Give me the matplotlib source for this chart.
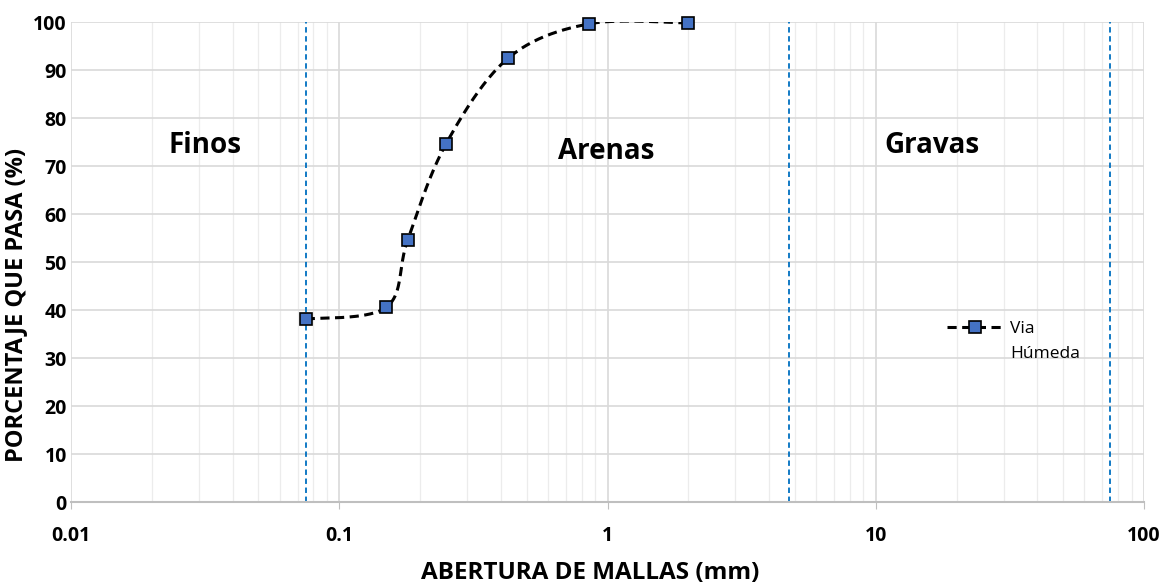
import numpy as np
import matplotlib
matplotlib.use("Agg")
from matplotlib import pyplot as plt
from matplotlib.lines import Line2D
from matplotlib.ticker import LogLocator, NullFormatter

# datos de granulometria
abertura = [0.075, 0.15, 0.18, 0.25, 0.425, 0.85, 2.0]
pasa = [38.1, 40.6, 54.6, 74.6, 92.4, 99.6, 99.8]
limites = [0.075, 4.75, 75.0]
zonas = ["Finos", "Arenas", "Gravas"]
zonas_x = [0.0316, 0.99, 16.2]
zonas_y = [74.2, 73.0, 74.2]
x_ticks = [0.01, 0.1, 1, 10, 100]
x_tick_labels = ["0.01", "0.1", "1", "10", "100"]
y_ticks = list(range(0, 101, 10))

plt.rcParams["font.family"] = ["Open Sans", "DejaVu Sans"]

fig = plt.figure(figsize=(11.67, 5.86), dpi=100)
ax = fig.add_axes([71 / 1167, 84 / 586, 1073 / 1167, 480 / 586])
ax.set_xscale("log")
ax.set_xlim(0.01, 100)
ax.set_ylim(0, 100)

# grid
ax.xaxis.set_minor_locator(LogLocator(base=10, subs=np.arange(2, 10)))
ax.xaxis.set_minor_formatter(NullFormatter())
ax.set_xticks(x_ticks)
ax.set_xticklabels(x_tick_labels)
ax.set_yticks(y_ticks)
ax.grid(True, which="major", color="#d9d9d9", lw=1.2)
ax.grid(True, which="minor", axis="x", color="#ececec", lw=0.9)
ax.set_axisbelow(True)
for s in ["top", "right", "left"]:
    ax.spines[s].set_visible(False)
ax.spines["bottom"].set_color("#bfbfbf")
ax.spines["bottom"].set_linewidth(1.5)
ax.tick_params(axis="x", which="major", length=5, color="#bfbfbf", pad=12,
               labelsize=14)
ax.tick_params(axis="x", which="minor", length=0)
ax.tick_params(axis="y", length=0, pad=3, labelsize=14)
for lbl in ax.get_xticklabels() + ax.get_yticklabels():
    lbl.set_fontweight("bold")

# limites de zonas
for xv in limites:
    ax.axvline(xv, color="#0070C0", ls=(0, (3, 2)), lw=1.3, zorder=2)

# curva suavizada (bezier tipo Excel en coordenadas de pantalla)
fig.canvas.draw()
pts = ax.transData.transform(np.column_stack([abertura, pasa]))
P = np.vstack([pts[0], pts, pts[-1]])
curve = []
t = np.linspace(0, 1, 40)[:, None]
for i in range(1, len(P) - 2):
    p0, p1, p2, p3 = P[i - 1], P[i], P[i + 1], P[i + 2]
    c1 = p1 + (p2 - p0) / 6
    c2 = p2 - (p3 - p1) / 6
    seg = ((1 - t) ** 3) * p1 + 3 * ((1 - t) ** 2) * t * c1 + 3 * (1 - t) * t ** 2 * c2 + t ** 3 * p2
    curve.append(seg)
curve = ax.transData.inverted().transform(np.vstack(curve))
ax.plot(curve[:, 0], curve[:, 1], color="black", ls=(0, (3, 1.8)), lw=2.2, zorder=3)
ax.plot(abertura, pasa, ls="none", marker="s", ms=9, mfc="#4472C4", mec="black",
        mew=1.2, zorder=4, clip_on=False)

for nombre, zx, zy in zip(zonas, zonas_x, zonas_y):
    ax.text(zx, zy, nombre, ha="center", va="center", fontsize=20, fontweight="bold")

# leyenda: "Via Húmeda" en dos renglones, el simbolo junto al primero
h_serie = Line2D([], [], color="black", ls=(0, (3, 1.8)), lw=2.2, marker="s", ms=9,
                 mfc="#4472C4", mec="black", mew=1.2)
h_vacio = Line2D([], [], color="none")
ax.legend([h_serie, h_vacio], ["Via", "Húmeda"], loc="upper left",
          bbox_to_anchor=(0.816, 0.377), frameon=False, fontsize=12.5,
          handlelength=3.3, handletextpad=0.35, borderpad=0, borderaxespad=0,
          labelspacing=0.5)

ax.set_xlabel("ABERTURA DE MALLAS (mm)", fontsize=17.5, fontweight="bold")
ax.set_ylabel("PORCENTAJE QUE PASA (%)", fontsize=17, fontweight="bold")
ax.xaxis.set_label_coords(0.484, -0.122)
ax.yaxis.set_label_coords(-0.040, 0.41)

fig.savefig("out.png", dpi=100)
